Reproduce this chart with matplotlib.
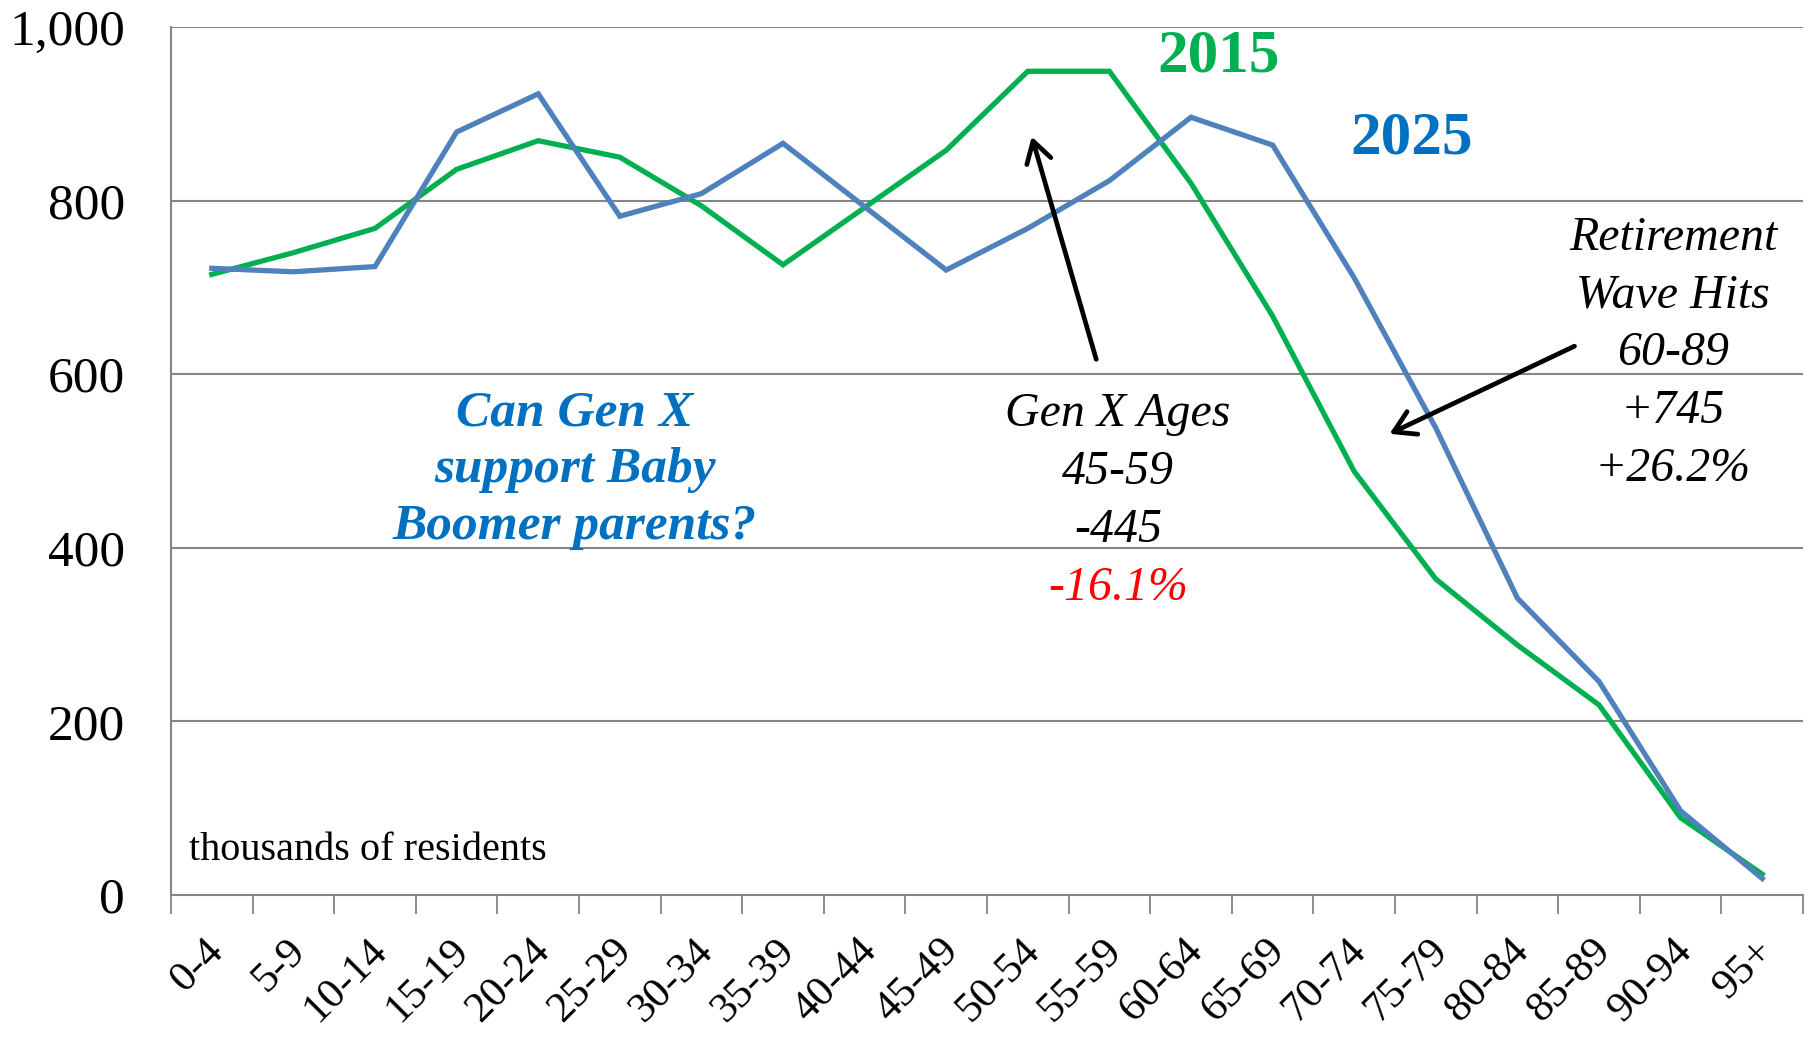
import matplotlib
matplotlib.use("Agg")
import matplotlib.pyplot as plt
import matplotlib.transforms as mtransforms
import numpy as np

categories = ["0-4", "5-9", "10-14", "15-19", "20-24", "25-29", "30-34", "35-39",
              "40-44", "45-49", "50-54", "55-59", "60-64", "65-69", "70-74", "75-79",
              "80-84", "85-89", "90-94", "95+"]
pop_2015 = [715, 740, 768, 836, 869, 850, 794, 726, 792, 858, 949, 949, 820, 667,
            488, 364, 288, 219, 89, 24]
pop_2025 = [722, 718, 724, 879, 923, 782, 808, 866, 793, 720, 768, 823, 896, 864,
            711, 538, 342, 246, 97, 19]
y_ticks = [0, 200, 400, 600, 800, 1000]
y_tick_labels = ["0", "200", "400", "600", "800", "1,000"]

plt.rcParams['font.family'] = ['Liberation Serif', 'DejaVu Serif']

W, H = 1815, 1046
fig = plt.figure(figsize=(W / 100, H / 100), dpi=100)
ax = fig.add_axes([171 / W, 1 - 895 / H, (1803 - 171) / W, (895 - 27) / H])

n = len(categories)
x = np.arange(n)
ax.plot(x, pop_2015, color='#00B050', lw=3.8, solid_joinstyle='miter', zorder=3)
ax.plot(x, pop_2025, color='#4F81BD', lw=3.8, solid_joinstyle='miter', zorder=3)

ax.set_xlim(-0.5, n - 0.5)
ax.set_ylim(0, 1000)
ax.set_yticks(y_ticks)
ax.set_yticklabels(y_tick_labels)
ax.yaxis.grid(True, color='#868686', lw=1.5)
ax.set_axisbelow(True)
ax.tick_params(axis='y', length=0, pad=33, labelsize=37)

ax.set_xticks(x)
ax.set_xticklabels(categories, rotation=45, ha='right', va='center',
                   rotation_mode='anchor', fontsize=31)
ax.tick_params(axis='x', which='major', length=0, pad=36)
ax.set_xticks(np.arange(-0.5, n, 1.0), minor=True)
ax.tick_params(axis='x', which='minor', length=14, width=1.3, color='#868686', direction='out')
offset = mtransforms.ScaledTranslation(6 / 100, 0, fig.dpi_scale_trans)
for lab in ax.get_xticklabels():
    lab.set_transform(lab.get_transform() + offset)

for s in ['top', 'right']:
    ax.spines[s].set_visible(False)
ax.spines['left'].set_color('#868686')
ax.spines['bottom'].set_color('#868686')
ax.spines['left'].set_linewidth(1.5)
ax.spines['bottom'].set_linewidth(1.5)

def fx(px):
    return px / W
def fy(py):
    return 1 - py / H

fig.text(fx(1219), fy(56), "2015", color='#00B050', fontsize=44, fontweight='bold',
         ha='center', va='center')
fig.text(fx(1412), fy(139), "2025", color='#0070C0', fontsize=44, fontweight='bold',
         ha='center', va='center')

for i, line in enumerate(["Can Gen X", "support Baby", "Boomer parents?"]):
    fig.text(fx(575), fy(413 + 57 * i), line, color='#0070C0', fontsize=37,
             fontweight='bold', style='italic', ha='center', va='center')

genx = [("Gen X Ages", 'black'), ("45-59", 'black'), ("-445", 'black'), ("-16.1%", '#FF0000')]
for i, (line, c) in enumerate(genx):
    fig.text(fx(1118), fy(414 + 58 * i), line, color=c, fontsize=34.5,
             style='italic', ha='center', va='center')

ret = ["Retirement", "Wave Hits", "60-89", "+745", "+26.2%"]
for i, line in enumerate(ret):
    fig.text(fx(1673), fy(238 + 57.7 * i), line, color='black', fontsize=34.5,
             style='italic', ha='center', va='center')

fig.text(fx(189), fy(851), "thousands of residents", color='black', fontsize=29,
         ha='left', va='center')

fig.add_artist(matplotlib.patches.FancyArrowPatch(
    (fx(1097), fy(362)), (fx(1031), fy(134)), transform=fig.transFigure,
    arrowstyle='->,head_length=10,head_width=6', color='black', lw=3.4, mutation_scale=1.5))
fig.add_artist(matplotlib.patches.FancyArrowPatch(
    (fx(1577), fy(345)), (fx(1387), fy(435)), transform=fig.transFigure,
    arrowstyle='->,head_length=10,head_width=6', color='black', lw=3.4, mutation_scale=1.5))

fig.savefig("out.png", dpi=100, facecolor='white')
